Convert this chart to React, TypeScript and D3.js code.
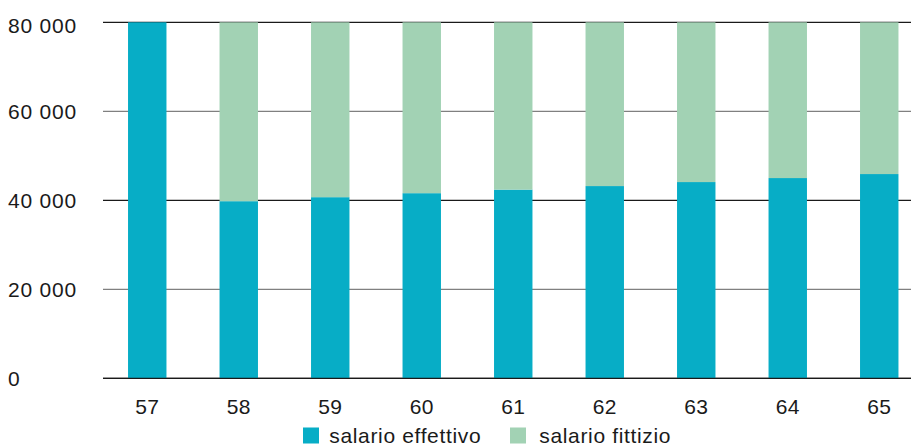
import React from "react";
import * as d3 from "d3";

const categories = ["57", "58", "59", "60", "61", "62", "63", "64", "65"];
const effettivo = [80000, 39800, 40700, 41600, 42400, 43200, 44100, 45000, 45900];
const fittizio = [0, 40200, 39300, 38400, 37600, 36800, 35900, 35000, 34100];
const yTicks = [0, 20000, 40000, 60000, 80000];
const seriesNames = ["salario effettivo", "salario fittizio"];
const seriesColors = ["#07adc6", "#a2d2b4"];

const W = 911;
const H = 445;
const FONT = "'Liberation Sans', Arial, Helvetica, sans-serif";

export default function App() {
  const x = d3.scaleBand<string>().domain(categories).range([101.5, 925]).paddingInner(0.58).paddingOuter(0.29);
  const y = d3.scaleLinear().domain([0, 80000]).range([378.3, 22.3]);
  const fmt = (v: number) => d3.format(",")(v).replace(/,/g, " ");

  const rows = categories.map((c, i) => ({ c, effettivo: effettivo[i], fittizio: fittizio[i] }));
  const stacked = d3.stack<any>().keys(["effettivo", "fittizio"])(rows);

  return (
    <svg width={W} height={H} style={{ position: "absolute", left: 0, top: 0, background: "#fff" }} fontFamily={FONT}>
      {yTicks.map((t) => (
        <g key={t}>
          <line x1={103} x2={W} y1={y(t)} y2={y(t)} stroke={t % 40000 === 0 ? "#1a1a1a" : "#808080"} strokeWidth={1.3} />
          <text x={8} y={Math.max(y(t) + 7.5, 33.3)} fontSize={21} letterSpacing={0.8} fill="#1a1a1a">{fmt(t)}</text>
        </g>
      ))}
      {stacked.map((s, si) => (
        <g key={si} fill={seriesColors[si]}>
          {s.map((d, i) => (
            <rect key={i} x={x(categories[i])} width={x.bandwidth()} y={y(d[1])} height={Math.max(0, y(d[0]) - y(d[1]))} />
          ))}
        </g>
      ))}
      <line x1={103} x2={W} y1={y(0)} y2={y(0)} stroke="#1a1a1a" strokeWidth={1.3} />
      {categories.map((c) => (
        <text key={c} x={(x(c) as number) + x.bandwidth() / 2} y={414.3} fontSize={21} letterSpacing={0.4} textAnchor="middle" fill="#1a1a1a">{c}</text>
      ))}
      <g>
        <rect x={303} y={427.5} width={16} height={16} fill={seriesColors[0]} />
        <text x={329.3} y={443} fontSize={21} letterSpacing={0.65} fill="#1a1a1a">{seriesNames[0]}</text>
        <rect x={510} y={427.5} width={16} height={16} fill={seriesColors[1]} />
        <text x={539.3} y={443} fontSize={21} letterSpacing={0.65} fill="#1a1a1a">{seriesNames[1]}</text>
      </g>
    </svg>
  );
}
